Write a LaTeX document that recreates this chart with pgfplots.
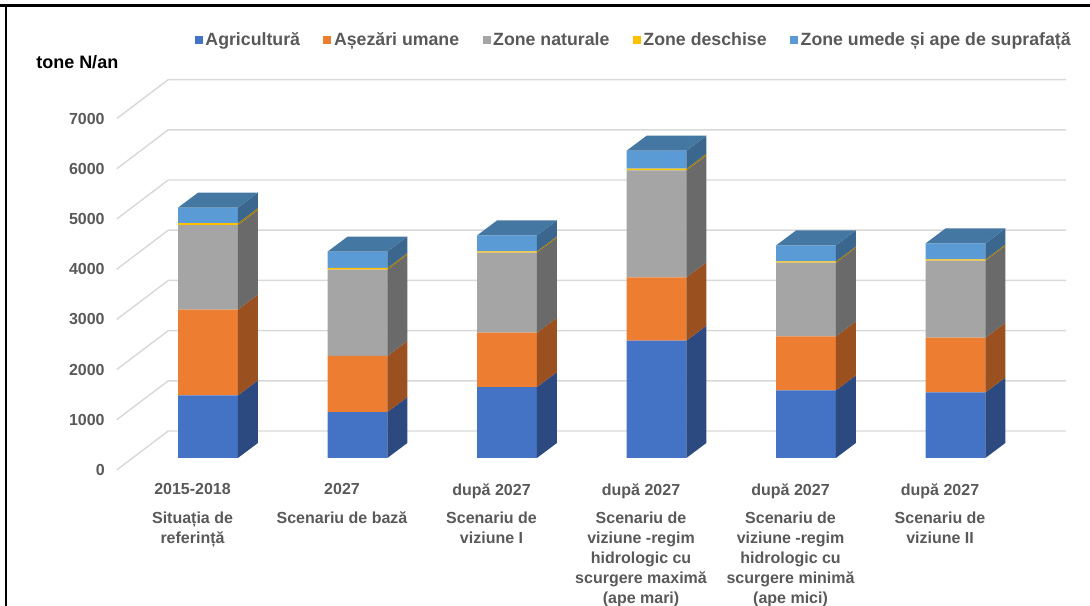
\documentclass[border=0pt]{standalone}
\usepackage{pgfplots}
\pgfplotsset{compat=1.18}
\usepackage{pgfplotstable}
\usepackage{fontspec}
\setmainfont{Liberation Sans}

\definecolor{cA}{HTML}{4472C4}\definecolor{cAs}{HTML}{2C4A80}
\definecolor{cB}{HTML}{ED7D31}\definecolor{cBs}{HTML}{9A511F}
\definecolor{cC}{HTML}{A5A5A5}\definecolor{cCs}{HTML}{6A6A6A}
\definecolor{cD}{HTML}{FFC000}\definecolor{cDs}{HTML}{A67C00}
\definecolor{cE}{HTML}{5B9BD5}\definecolor{cEs}{HTML}{3B678F}\definecolor{cEt}{HTML}{4577A3}
\definecolor{gridc}{HTML}{D9D9D9}
\definecolor{txt}{HTML}{595959}

\pgfplotstableread{
x agr ase nat des ume
0 1249 1707 1685 40 307
1 916 1116 1721 32 327
2 1414 1082 1594 26 318
3 2337 1261 2131 34 359
4 1347 1075 1468 26 319
5 1307 1089 1534 27 318
}\data

\def\dx{0.1338}\def\dy{298.8}\def\hw{0.2}

\newcommand\sideface[3]{%
  \pgfmathsetmacro\fa{#1}\pgfmathsetmacro\fb{#1+\dy}%
  \pgfmathsetmacro\fc{#2+\dy}\pgfmathsetmacro\fd{#2}%
  \edef\tmp{\noexpand\addplot[fill=#3,draw=none,forget plot] coordinates {(\xr,\fa) (\xrd,\fb) (\xrd,\fc) (\xr,\fd)};}\tmp}
\newcommand\topface[2]{%
  \pgfmathsetmacro\fa{#1}\pgfmathsetmacro\fb{#1+\dy}%
  \edef\tmp{\noexpand\addplot[fill=#2,draw=none,forget plot] coordinates {(\xl,\fa) (\xr,\fa) (\xrd,\fb) (\xld,\fb)};}\tmp}

\pgfplotsset{
  common/.style={
    at={(87.525pt,102pt)}, anchor=south west,
    scale only axis, width=711.975pt, height=293.25pt,
    xmin=-0.6107, xmax=5.7391, ymin=-239, ymax=7550,
    clip=false,
  },
  sq/.style={legend image code/.code={\fill[##1] (0pt,-3pt) rectangle (6pt,3pt);}},
}

\begin{document}
\begin{tikzpicture}
\path[use as bounding box] (0,0) rectangle (817.5pt,454.5pt);
\draw[line width=2.25pt] (0,450.4pt) -- (817.5pt,450.4pt);
\draw[line width=1.5pt] (4.8pt,0) -- (4.8pt,451.5pt);
\node[anchor=west, font=\fontsize{13.5}{16}\selectfont\bfseries, text=black, inner sep=0pt] at (27pt,408pt) {tone N/an};

% grid / walls and tick labels
\begin{axis}[common,
  axis line style={draw=none}, major tick length=0pt,
  ytick={0,1000,2000,3000,4000,5000,6000,7000},
  /pgf/number format/1000 sep={},
  /pgf/number format/assume math mode=true,
  yticklabel style={font=\fontsize{12}{15}\selectfont\bfseries, text=txt, xshift=-5.5pt, yshift=-9pt},
  xtick={0,1,2,3,4,5},
  xticklabels={
    {2015-2018\\[6.4pt]Situația de\\referință},
    {2027\\[6.4pt]Scenariu de bază},
    {după 2027\\[6.4pt]Scenariu de\\viziune I},
    {după 2027\\[6.4pt]Scenariu de\\viziune -regim\\hidrologic cu\\scurgere maximă\\(ape mari)},
    {după 2027\\[6.4pt]Scenariu de\\viziune -regim\\hidrologic cu\\scurgere minimă\\(ape mici)},
    {după 2027\\[6.4pt]Scenariu de\\viziune II}},
  xticklabel style={align=center, font=\fontsize{12}{15}\selectfont\bfseries, text=txt, xshift=-11.6pt, yshift=-6.5pt},
]
\pgfplotsinvokeforeach{0,1000,2000,3000,4000,5000,6000,7000}{
  \pgfmathsetmacro\gf{#1-239}\pgfmathsetmacro\gb{#1+537.8}
  \edef\tmp{\noexpand\addplot[gridc,line width=1.1pt,forget plot] coordinates {(-0.6107,\gf) (-0.2656,\gb) (5.7391,\gb)};}\tmp
}
\end{axis}

% front faces
\begin{axis}[common, hide axis, ybar stacked, bar width=0.4,
  legend style={at={(0.545,1.10)}, anchor=center, draw=none, fill=none,
    legend columns=-1, font=\fontsize{13.3}{16}\selectfont\bfseries, text=txt,
    /tikz/every even column/.append style={column sep=15.5pt}},
]
\addplot[fill=cA, draw=none, sq] table[x=x,y=agr]{\data};
\addlegendentry{Agricultură}
\addplot[fill=cB, draw=none, sq] table[x=x,y=ase]{\data};
\addlegendentry{Așezări umane}
\addplot[fill=cC, draw=none, sq] table[x=x,y=nat]{\data};
\addlegendentry{Zone naturale}
\addplot[fill=cD, draw=none, sq] table[x=x,y=des]{\data};
\addlegendentry{Zone deschise}
\addplot[fill=cE, draw=none, sq] table[x=x,y=ume]{\data};
\addlegendentry{Zone umede și ape de suprafață}
\end{axis}

% side and top faces
\begin{axis}[common, hide axis]
\pgfplotsinvokeforeach{0,1,2,3,4,5}{
  \pgfplotstablegetelem{#1}{agr}\of\data\let\va\pgfplotsretval
  \pgfplotstablegetelem{#1}{ase}\of\data\let\vb\pgfplotsretval
  \pgfplotstablegetelem{#1}{nat}\of\data\let\vc\pgfplotsretval
  \pgfplotstablegetelem{#1}{des}\of\data\let\vd\pgfplotsretval
  \pgfplotstablegetelem{#1}{ume}\of\data\let\ve\pgfplotsretval
  \pgfmathsetmacro\xl{#1-\hw}\pgfmathsetmacro\xr{#1+\hw}
  \pgfmathsetmacro\xld{#1-\hw+\dx}\pgfmathsetmacro\xrd{#1+\hw+\dx}
  \pgfmathsetmacro\ya{\va}\pgfmathsetmacro\yb{\ya+\vb}
  \pgfmathsetmacro\yc{\yb+\vc}\pgfmathsetmacro\yd{\yc+\vd}
  \pgfmathsetmacro\ye{\yd+\ve}
  \sideface{0}{\ya}{cAs}
  \sideface{\ya}{\yb}{cBs}
  \sideface{\yb}{\yc}{cCs}
  \sideface{\yc}{\yd}{cDs}
  \sideface{\yd}{\ye}{cEs}
  \topface{\ye}{cEt}
}
\end{axis}
\end{tikzpicture}
\end{document}
